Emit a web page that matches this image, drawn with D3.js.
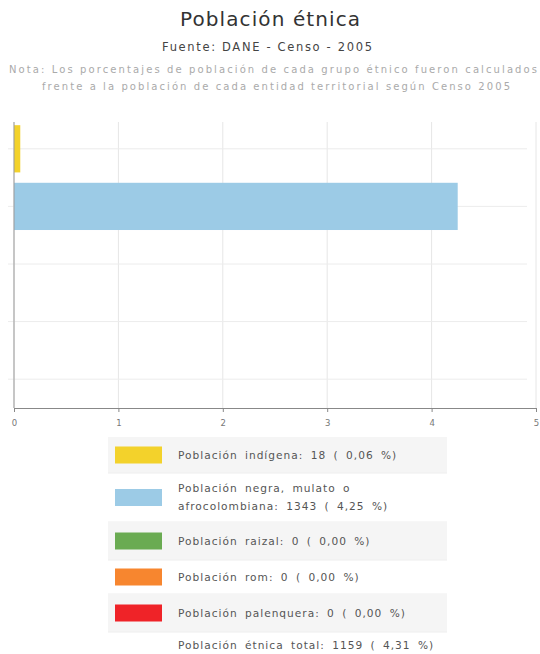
<!DOCTYPE html>
<html><head><meta charset="utf-8">
<script src="https://cdn.jsdelivr.net/npm/d3@7"></script>
<style>
body{margin:0;background:#fff;}
svg text{font-family:"DejaVu Sans",sans-serif;}
</style></head>
<body>
<svg id="c" width="540" height="654"></svg>
<script>
const categories = ["Población indígena","Población negra, mulato o afrocolombiana","Población raizal","Población rom","Población palenquera"];
const counts = [18, 1343, 0, 0, 0];
const percents = [0.06, 4.25, 0, 0, 0];
const colors = ["#f3d22b","#9ccbe6","#6aab52","#f7862f","#ef2328"];
const xTicks = [0,1,2,3,4,5];
const legendLabels = ["Población indígena: 18 ( 0,06 %)","Población negra, mulato o|afrocolombiana: 1343 ( 4,25 %)","Población raizal: 0 ( 0,00 %)","Población rom: 0 ( 0,00 %)","Población palenquera: 0 ( 0,00 %)"];
const totalLabel = "Población étnica total: 1159 ( 4,31 %)";

const svg = d3.select("#c");
svg.append("text").attr("x",270).attr("y",26).attr("text-anchor","middle")
  .attr("font-size",20).attr("fill","#333").attr("textLength",180).attr("lengthAdjust","spacing").text("Población étnica");
svg.append("text").attr("x",267).attr("y",51).attr("text-anchor","middle")
  .attr("font-size",11.5).attr("fill","#444").attr("textLength",210).attr("lengthAdjust","spacing").text("Fuente: DANE - Censo - 2005");
svg.append("text").attr("x",273).attr("y",73).attr("text-anchor","middle")
  .attr("font-size",10).attr("fill","#aaa").attr("textLength",528).attr("lengthAdjust","spacing").text("Nota: Los porcentajes de población de cada grupo étnico fueron calculados");
svg.append("text").attr("x",276).attr("y",90).attr("text-anchor","middle")
  .attr("font-size",10).attr("fill","#aaa").attr("textLength",468).attr("lengthAdjust","spacing").text("frente a la población de cada entidad territorial según Censo 2005");

const x = d3.scaleLinear().domain([0,5]).range([14,536]);
const y = d3.scaleBand().domain(categories).range([120,408]).paddingInner(0.18).paddingOuter(0.09);
const plotTop = 122, plotBottom = 408;

const g = svg.append("g");
g.selectAll(".vg").data(xTicks).join("line")
  .attr("x1",d=>x(d)).attr("x2",d=>x(d)).attr("y1",plotTop).attr("y2",plotBottom)
  .attr("stroke","#e6e6e6").attr("stroke-width",1);
g.selectAll(".hg").data(categories).join("line")
  .attr("x1",8).attr("x2",527)
  .attr("y1",d=>y(d)+y.bandwidth()/2).attr("y2",d=>y(d)+y.bandwidth()/2)
  .attr("stroke","#ececec").attr("stroke-width",1);
g.selectAll(".bar").data(categories).join("rect")
  .attr("x",x(0)).attr("y",d=>y(d))
  .attr("width",(d,i)=>x(percents[i])-x(0)).attr("height",y.bandwidth())
  .attr("fill",(d,i)=>colors[i]);
g.append("line").attr("x1",x(0)).attr("x2",x(0)).attr("y1",plotTop).attr("y2",plotBottom)
  .attr("stroke","#999").attr("stroke-width",1);
const xa = svg.append("g").attr("transform",`translate(0,${plotBottom})`)
  .call(d3.axisBottom(x).tickValues(xTicks).tickSize(4).tickPadding(8).tickFormat(d3.format("d")));
xa.select(".domain").attr("stroke","#888");
xa.selectAll(".tick line").attr("stroke","#888");
xa.selectAll("text").attr("font-size",8.5).attr("fill","#777").attr("font-family","DejaVu Sans");

const rowTops = [437,473,522,560,594,632];
const rowH = [36,49,38,34,38,22];
const lg = svg.append("g");
legendLabels.forEach((lab,i)=>{
  if(i%2===0){
    lg.append("rect").attr("x",108).attr("y",rowTops[i]).attr("width",339).attr("height",rowH[i]).attr("fill","#f5f5f5");
  }
  lg.append("line").attr("x1",108).attr("x2",447).attr("y1",rowTops[i]+rowH[i]).attr("y2",rowTops[i]+rowH[i]).attr("stroke","#eee");
  const cy = rowTops[i]+rowH[i]/2;
  lg.append("rect").attr("x",115).attr("y",cy-8.5).attr("width",47).attr("height",17).attr("fill",colors[i]);
  const lines = lab.split("|");
  const t = lg.append("text").attr("x",178).attr("font-size",10.6).attr("fill","#555")
    .attr("letter-spacing",1.0).attr("word-spacing",3);
  lines.forEach((ln,k)=>{
    t.append("tspan").attr("x",178).attr("y",cy+3.5+(k-(lines.length-1)/2)*18).text(ln);
  });
});
lg.append("text").attr("x",178).attr("y",649).attr("font-size",10.6).attr("fill","#555")
  .attr("letter-spacing",1.0).attr("word-spacing",3).text(totalLabel);
</script>
</body></html>
